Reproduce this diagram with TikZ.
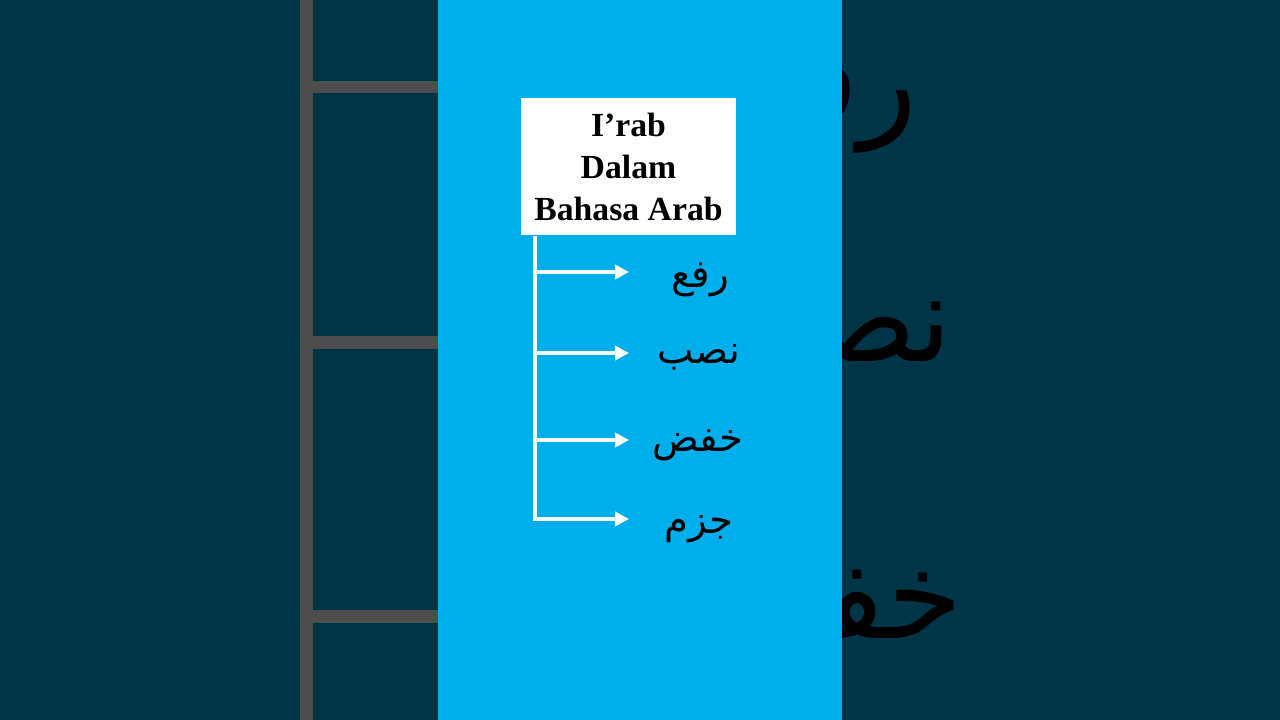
\documentclass[tikz,border=0pt]{standalone}
\usepackage{fontspec}
\setmainfont{Liberation Serif}
\newfontfamily\arabicfont[Script=Arabic]{DejaVu Sans}
\TeXXeTstate=1
\usepackage{tikz}
\usetikzlibrary{arrows.meta}

\definecolor{panelblue}{RGB}{0,174,236}
\definecolor{shadeblue}{RGB}{0,52,71}
\definecolor{shadegray}{RGB}{77,77,77}

\begin{document}
\begin{tikzpicture}[
    title/.style={fill=white, minimum width=2.15cm, minimum height=1.37cm, inner sep=0pt,
                  align=center, font=\bfseries\fontsize{9.6}{11.95}\selectfont},
    word/.style={text=black, inner sep=0pt, font=\arabicfont\fontsize{11}{13}\selectfont},
    branch/.style={white, line width=1.1pt},
    arrow/.style={branch, -{Triangle[length=0.14cm, width=0.14cm]}},
    ghost/.style={shadegray, line width=3.6pt}]
  \useasboundingbox (0,0) rectangle (12.8,7.2);
  \fill[shadeblue] (0,0) rectangle (12.8,7.2);

  % enlarged copy seen at both sides
  \begin{scope}
    \clip (0,0) rectangle (4.38,7.2) (8.42,0) rectangle (12.8,7.2);
    \begin{scope}[shift={(6.413,3.62)}, scale=3.15, shift={(-6.413,-3.62)}, transform shape]
      \coordinate (T) at (5.35,4.85);
      \coordinate (A) at (5.35,4.48);
      \coordinate (B) at (5.35,3.67);
      \coordinate (C) at (5.35,2.80);
      \coordinate (D) at (5.35,2.01);

      \draw[ghost] (T) -- (D);
      \draw[ghost] (A) -- ++(0.9,0) (B) -- ++(0.9,0) (C) -- ++(0.9,0) (D) -- ++(0.9,0);

      \node[word] (rafa) at (7.00,4.44) {\beginR رفع\endR};
      \node[word] (nasab) at (6.99,3.67) {\beginR نصب\endR};
      \node[word] (khafd) at (6.98,2.79) {\beginR خفض\endR};
      \node[word] (jazm) at (6.99,1.96) {\beginR جزم\endR};
    \end{scope}
  \end{scope}

  % the panel
  \fill[panelblue] (4.38,0) rectangle (8.42,7.2);

  \node[title] (irab) at (6.285,5.535) {I’rab\\Dalam\\Bahasa Arab};

  \coordinate (t1) at (5.35,4.48);
  \coordinate (t2) at (5.35,3.67);
  \coordinate (t3) at (5.35,2.80);
  \coordinate (t4) at (5.35,2.01);
  \coordinate (e1) at (6.29,4.48);
  \coordinate (e2) at (6.29,3.67);
  \coordinate (e3) at (6.29,2.80);
  \coordinate (e4) at (6.29,2.01);

  \node[word] (rafa) at (7.00,4.40) {\beginR رفع\endR};
  \node[word] (nasab) at (6.99,3.63) {\beginR نصب\endR};
  \node[word] (khafd) at (6.98,2.75) {\beginR خفض\endR};
  \node[word] (jazm) at (6.99,1.91) {\beginR جزم\endR};

  \draw[arrow] (irab.south -| t4) -- (t4) -- (e4);
  \draw[arrow] (t1) -- (e1);
  \draw[arrow] (t2) -- (e2);
  \draw[arrow] (t3) -- (e3);
\end{tikzpicture}
\end{document}
